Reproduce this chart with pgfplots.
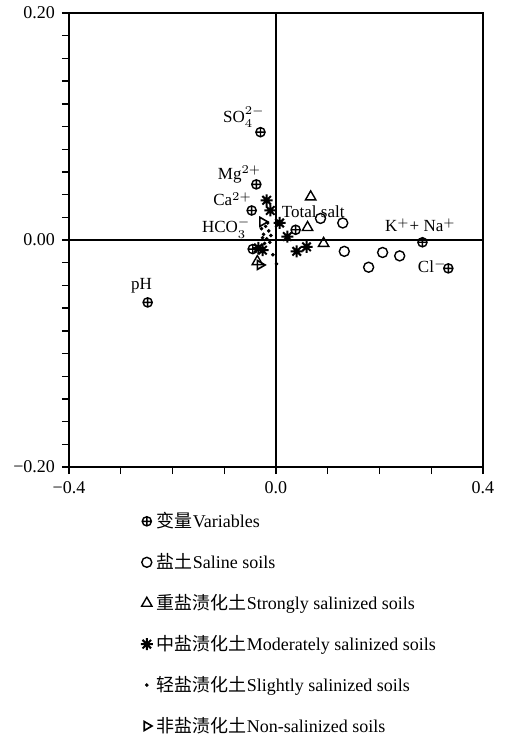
\documentclass[border=0pt]{standalone}
\usepackage{pgfplots}
\pgfplotsset{compat=1.18}
\usepackage{fontspec}
\setmainfont{Liberation Serif}
\newfontfamily\cjk{Noto Sans CJK SC}

% eight-armed asterisk for the moderately salinized soils
\pgfdeclareplotmark{star8}{%
  \pgfpathmoveto{\pgfpointpolar{0}{\pgfplotmarksize}}\pgfpathlineto{\pgfpointpolar{180}{\pgfplotmarksize}}%
  \pgfpathmoveto{\pgfpointpolar{45}{\pgfplotmarksize}}\pgfpathlineto{\pgfpointpolar{225}{\pgfplotmarksize}}%
  \pgfpathmoveto{\pgfpointpolar{90}{\pgfplotmarksize}}\pgfpathlineto{\pgfpointpolar{270}{\pgfplotmarksize}}%
  \pgfpathmoveto{\pgfpointpolar{135}{\pgfplotmarksize}}\pgfpathlineto{\pgfpointpolar{315}{\pgfplotmarksize}}%
  \pgfusepathqstroke}

\begin{document}
\begin{tikzpicture}
\useasboundingbox (-34.5pt,-135pt) rectangle (218.5pt,233.5pt);
\begin{axis}[
  at={(0,0)}, anchor=south west,
  width=207pt, height=227pt, scale only axis,
  xmin=-0.4, xmax=0.4, ymin=-0.2, ymax=0.2,
  axis line style={line width=1pt},
  xtick={-0.4,-0.3,...,0.41}, xticklabels={−0.4,,,,0.0,,,,0.4},
  ytick={-0.2,-0.18,...,0.201},
  yticklabels={−0.20,,,,,,,,,,0.00,,,,,,,,,,0.20},
  tick align=outside, xtick pos=bottom, ytick pos=left,
  major tick length=3.5pt,
  tick style={black, line width=0.7pt},
  ticklabel style={font=\fontsize{9}{10}\selectfont},
  legend style={at={(axis description cs:0.158,-0.081)}, anchor=north west,
    draw=none, fill=none, font=\fontsize{9}{10}\selectfont, row sep=7.4pt},
  legend cell align=left,
  legend image code/.code={\draw[mark repeat=2,mark phase=2,#1] plot coordinates {(0pt,0pt) (2.5pt,0pt) (5pt,0pt)};},
  clip=false,
]
\draw[line width=0.6pt] (axis cs:0,-0.2) -- (axis cs:0,0.2);
\draw[line width=0.6pt] (axis cs:-0.4,0) -- (axis cs:0.4,0);

% variables
\addplot[only marks, mark=oplus, mark size=2.3pt, line width=0.7pt] coordinates {
  (-0.030,0.095) (-0.038,0.049) (-0.047,0.026) (-0.045,-0.008)
  (0.038,0.009) (0.283,-0.002) (0.333,-0.025) (-0.248,-0.055)};
\addlegendentry{{\cjk 变量}Variables}

% saline soils
\addplot[only marks, mark=o, mark size=2.5pt, line width=0.7pt] coordinates {
  (0.086,0.019) (0.129,0.015) (0.132,-0.010) (0.179,-0.024)
  (0.206,-0.011) (0.239,-0.014)};
\addlegendentry{{\cjk 盐土}Saline soils}

% strongly salinized soils
\addplot[only marks, mark=triangle, mark size=3pt, line width=0.7pt] coordinates {
  (0.067,0.038) (0.061,0.011) (0.092,-0.003) (-0.036,-0.019)};
\addlegendentry{{\cjk 重盐渍化土}Strongly salinized soils}

% moderately salinized soils
\addplot[only marks, mark=star8, mark size=3pt, line width=1pt] coordinates {
  (-0.018,0.035) (-0.011,0.026) (0.007,0.015) (0.022,0.003)
  (0.040,-0.010) (0.059,-0.006) (-0.026,-0.009) (-0.034,-0.007)};
\addlegendentry{{\cjk 中盐渍化土}Moderately salinized soils}

% slightly salinized soils
\addplot[only marks, mark=*, mark size=0.7pt] coordinates {
  (-0.028,0.010) (-0.024,0.005) (-0.020,0.012) (-0.018,0.001)
  (-0.014,0.008) (-0.012,-0.002) (-0.022,-0.003) (-0.010,0.004)
  (-0.026,0.002) (-0.016,0.015) (0.001,-0.021) (-0.006,-0.013)};
\addlegendentry{{\cjk 轻盐渍化土}Slightly salinized soils}

% non-salinized soils
\addplot[only marks, mark=triangle, mark size=2.6pt, line width=0.8pt,
  mark options={rotate=-90}] coordinates {
  (-0.026,0.016) (-0.031,-0.022)};
\addlegendentry{{\cjk 非盐渍化土}Non-salinized soils}

% labels of the variables
\begin{scope}[every node/.style={font=\fontsize{8.5}{9}\selectfont, inner sep=0pt}]
\node at (axis cs:-0.062,0.108) {SO$_4^{2-}$};
\node at (axis cs:-0.0705,0.058) {Mg$^{2+}$};
\node at (axis cs:-0.084,0.036) {Ca$^{2+}$};
\node at (axis cs:-0.096,0.0106) {HCO$_3^-$};
\node at (axis cs:0.072,0.025) {Total salt};
\node at (axis cs:0.279,0.013) {K$^+$+ Na$^+$};
\node at (axis cs:0.302,-0.023) {Cl$^-$};
\node at (axis cs:-0.26,-0.040) {pH};
\end{scope}
\end{axis}
\end{tikzpicture}
\end{document}
